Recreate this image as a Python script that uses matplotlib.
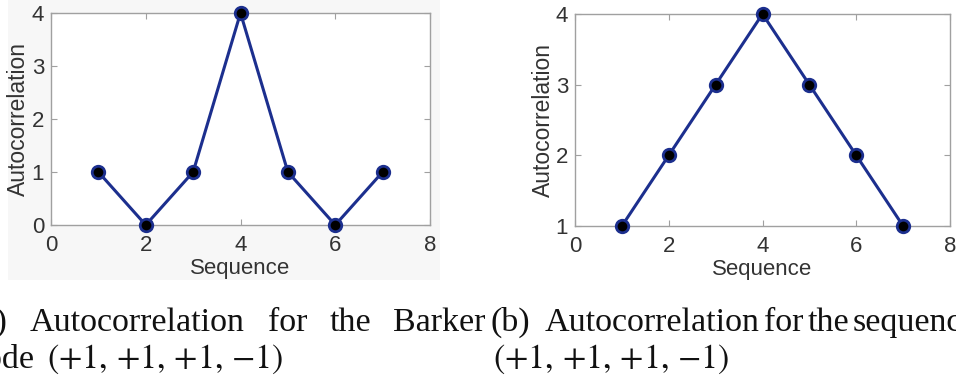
import matplotlib
matplotlib.use("Agg")
import matplotlib.pyplot as plt
from matplotlib.patches import Rectangle

# data
seq = [1, 2, 3, 4, 5, 6, 7]
barker_acf = [1, 0, 1, 4, 1, 0, 1]
other_acf = [1, 2, 3, 4, 3, 2, 1]
xticks = [0, 2, 4, 6, 8]

W, H = 956, 385
plt.rcParams['mathtext.fontset'] = 'stix'
plt.rcParams['font.family'] = ['Liberation Sans', 'DejaVu Sans']

fig = plt.figure(figsize=(W / 100, H / 100), dpi=100)
fig.patch.set_facecolor('white')

# light grey export background behind the left figure
fig.patches.append(Rectangle((8 / W, 1 - 280 / H), 432 / W, 280 / H,
                             transform=fig.transFigure, facecolor='#f7f7f7',
                             edgecolor='none', zorder=-5))


def px_rect(x0, x1, ytop, ybot):
    return [x0 / W, 1 - ybot / H, (x1 - x0) / W, (ybot - ytop) / H]


def panel(rect, y, yticks, ylim):
    ax = fig.add_axes(rect)
    ax.set_facecolor('white')
    ax.plot(seq, y, color='#1c2f8e', lw=2.2, marker='o', ms=9,
            mfc='black', mec='#1c2f8e', mew=2, clip_on=False, zorder=3)
    ax.set_xlim(0, 8)
    ax.set_ylim(*ylim)
    ax.set_xticks(xticks)
    ax.set_yticks(yticks)
    ax.tick_params(direction='in', top=True, right=True, color='#a0a0a0',
                   labelcolor='#333333', labelsize=16, length=4)
    ax.tick_params(axis='x', pad=7)
    ax.tick_params(axis='y', pad=5)
    for s in ax.spines.values():
        s.set_color('#a0a0a0')
        s.set_linewidth(1)
    ax.set_xlabel('Sequence', fontsize=16, color='#333333', va='center')
    ax.set_ylabel('Autocorrelation', fontsize=16.5, color='#333333', va='center')
    ax.xaxis.set_label_coords(0.5, -0.203)
    ax.yaxis.set_label_coords(-0.085, 0.5)
    return ax


panel(px_rect(51, 430, 13, 225), barker_acf, [0, 1, 2, 3, 4], (0, 4))
panel(px_rect(575, 950, 14, 226), other_acf, [1, 2, 3, 4], (1, 4))

# captions (cropped from a paper, left one justified)
cap = dict(family='Liberation Serif', fontsize=24.5, color='#111111', va='baseline')
code = r'$(+1,\,{+}1,\,{+}1,\,{-}1)$'
y1 = 1 - 331 / H
y2 = 1 - 368 / H

fig.text(7 / W, y1, '(a)', ha='right', **cap)
for word, x in [('Autocorrelation', 30), ('for', 268), ('the', 330), ('Barker', 393)]:
    fig.text(x / W, y1, word, ha='left', **cap)
fig.text(35 / W, y2, 'code', ha='right', **cap)
fig.text(47 / W, y2, code, ha='left', **cap)

for word, x in [('(b)', 490), ('Autocorrelation', 545), ('for', 764), ('the', 808), ('sequence', 853)]:
    fig.text(x / W, y1, word, ha='left', **cap)
fig.text(493 / W, y2, code, ha='left', **cap)

fig.savefig('out.png', dpi=100)
